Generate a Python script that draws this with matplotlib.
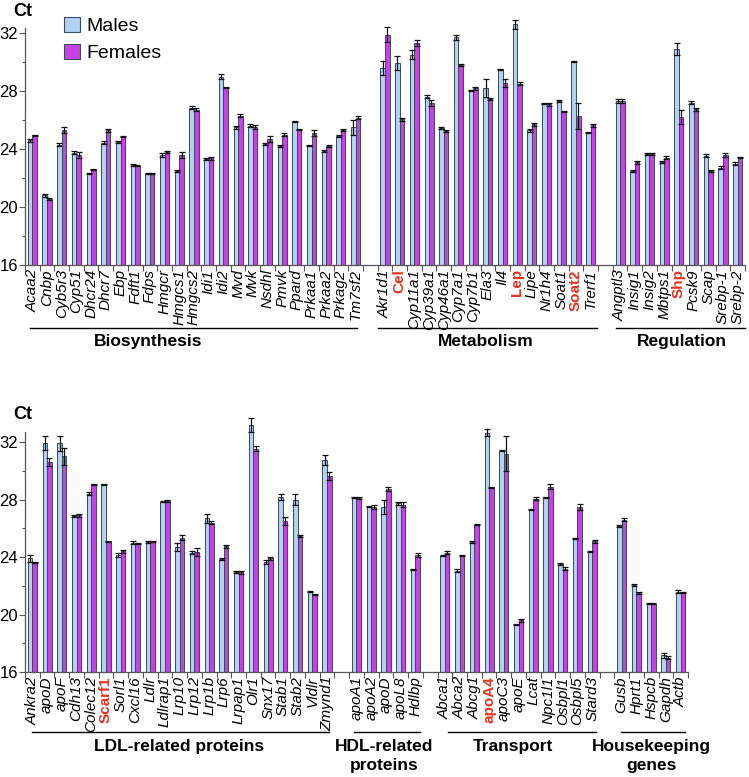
import matplotlib
matplotlib.use("Agg")
import matplotlib.pyplot as plt
import matplotlib.transforms as mtransforms
from matplotlib.patches import Patch
from matplotlib.ticker import MultipleLocator, FixedLocator
import numpy as np

plt.rcParams['font.family'] = ['Liberation Sans', 'DejaVu Sans']

# ---------------- data (Ct values) ----------------
bio_genes = ["Acaa2", "Cnbp", "Cyb5r3", "Cyp51", "Dhcr24", "Dhcr7", "Ebp", "Fdft1", "Fdps",
             "Hmgcr", "Hmgcs1", "Hmgcs2", "Idi1", "Idi2", "Mvd", "Mvk", "Nsdhl", "Pmvk",
             "Ppard", "Prkaa1", "Prkaa2", "Prkag2", "Tm7sf2"]
bio_m = [24.6, 20.8, 24.3, 23.75, 22.3, 24.45, 24.5, 22.9, 22.3, 23.6, 22.5, 26.85, 23.3, 29.0,
         25.5, 25.6, 24.35, 24.2, 25.9, 24.25, 23.85, 24.9, 25.5]
bio_f = [24.95, 20.55, 25.3, 23.6, 22.6, 25.3, 24.85, 22.85, 22.3, 23.8, 23.6, 26.7, 23.35, 28.25,
         26.3, 25.5, 24.7, 25.0, 25.35, 25.1, 24.2, 25.3, 26.15]
bio_me = [0.1, 0.1, 0.1, 0.1, 0.05, 0.1, 0.05, 0.1, 0.05, 0.15, 0.05, 0.1, 0.05, 0.2, 0.1, 0.1,
          0.1, 0.05, 0.05, 0.05, 0.05, 0.05, 0.5]
bio_fe = [0.05, 0.05, 0.2, 0.2, 0.05, 0.1, 0.05, 0.05, 0.05, 0.05, 0.2, 0.1, 0.1, 0.05, 0.1, 0.15,
          0.2, 0.1, 0.05, 0.2, 0.05, 0.05, 0.1]

met_genes = ["Akr1d1", "Cel", "Cyp11a1", "Cyp39a1", "Cyp46a1", "Cyp7a1", "Cyp7b1", "Ela3", "Il4",
             "Lep", "Lipe", "Nr1h4", "Soat1", "Soat2", "Trerf1"]
met_m = [29.6, 29.95, 30.5, 27.6, 25.45, 31.7, 28.05, 28.2, 29.5, 32.6, 25.3, 27.15, 27.3, 30.05, 25.15]
met_f = [31.9, 26.05, 31.3, 27.2, 25.25, 29.8, 28.2, 27.45, 28.55, 28.5, 25.7, 27.1, 26.6, 26.3, 25.65]
met_me = [0.5, 0.5, 0.3, 0.1, 0.05, 0.15, 0.05, 0.6, 0.05, 0.3, 0.1, 0.05, 0.05, 0.05, 0.05]
met_fe = [0.5, 0.1, 0.2, 0.2, 0.05, 0.05, 0.1, 0.1, 0.3, 0.1, 0.1, 0.1, 0.05, 0.9, 0.1]

reg_genes = ["Angptl3", "Insig1", "Insig2", "Mbtps1", "Shp", "Pcsk9", "Scap", "Srebp-1", "Srebp-2"]
reg_m = [27.3, 22.5, 23.65, 23.1, 30.9, 27.2, 23.55, 22.7, 23.0]
reg_f = [27.3, 23.1, 23.65, 23.4, 26.2, 26.75, 22.5, 23.6, 23.4]
reg_me = [0.15, 0.05, 0.05, 0.05, 0.4, 0.1, 0.1, 0.1, 0.1]
reg_fe = [0.15, 0.1, 0.05, 0.1, 0.5, 0.1, 0.05, 0.15, 0.05]

ldl_genes = ["Ankra2", "apoD", "apoF", "Cdh13", "Colec12", "Scarf1", "Sorl1", "Cxcl16", "Ldlr",
             "Ldlrap1", "Lrp10", "Lrp12", "Lrp1b", "Lrp6", "Lrpap1", "Olr1", "Snx17", "Stab1",
             "Stab2", "Vldlr", "Zmynd1"]
ldl_m = [23.9, 31.95, 31.9, 26.85, 28.4, 29.05, 24.15, 25.0, 25.05, 27.85, 24.7, 24.3, 26.7, 23.85,
         22.95, 33.2, 23.65, 28.2, 28.0, 21.6, 30.75]
ldl_f = [23.6, 30.6, 31.0, 26.9, 29.05, 25.1, 24.4, 24.95, 25.1, 27.9, 25.35, 24.35, 26.4, 24.75,
         22.95, 31.55, 23.9, 26.5, 25.45, 21.4, 29.65]
ldl_me = [0.25, 0.5, 0.5, 0.05, 0.1, 0.05, 0.15, 0.1, 0.05, 0.05, 0.25, 0.1, 0.3, 0.05, 0.05, 0.5,
          0.15, 0.2, 0.4, 0.05, 0.35]
ldl_fe = [0.05, 0.3, 0.6, 0.1, 0.05, 0.05, 0.1, 0.05, 0.05, 0.1, 0.15, 0.3, 0.1, 0.1, 0.1, 0.2,
          0.1, 0.3, 0.05, 0.05, 0.3]

hdl_genes = ["apoA1", "apoA2", "apoD", "apoL8", "Hdlbp"]
hdl_m = [28.15, 27.5, 27.5, 27.75, 23.15]
hdl_f = [28.1, 27.5, 28.75, 27.65, 24.15]
hdl_me = [0.05, 0.05, 0.5, 0.1, 0.05]
hdl_fe = [0.05, 0.15, 0.15, 0.2, 0.15]

tr_genes = ["Abca1", "Abca2", "Abcg1", "apoA4", "apoC3", "apoE", "Lcat", "Npc1l1", "Osbpl1",
            "Osbpl5", "Stard3"]
tr_m = [24.1, 23.05, 25.05, 32.65, 31.4, 19.3, 27.3, 28.15, 23.5, 25.3, 24.4]
tr_f = [24.3, 24.1, 26.25, 28.85, 31.2, 19.6, 28.05, 28.9, 23.2, 27.5, 25.1]
tr_me = [0.05, 0.1, 0.05, 0.25, 0.05, 0.05, 0.05, 0.05, 0.05, 0.05, 0.05]
tr_fe = [0.1, 0.05, 0.05, 0.05, 1.2, 0.1, 0.1, 0.2, 0.1, 0.2, 0.1]

hk_genes = ["Gusb", "Hprt1", "Hspcb", "Gapdh", "Actb"]
hk_m = [26.15, 22.05, 20.75, 17.15, 21.6]
hk_f = [26.6, 21.5, 20.75, 17.0, 21.55]
hk_me = [0.05, 0.05, 0.05, 0.15, 0.1]
hk_fe = [0.1, 0.05, 0.05, 0.1, 0.05]

highlight = {"Cel", "Lep", "Soat2", "Shp", "Scarf1", "apoA4"}

# (name, genes, males, females, male err, female err, label centre, line start/end offsets)
top_groups = [("Biosynthesis", bio_genes, bio_m, bio_f, bio_me, bio_fe, 7.9, (-0.15, 0.1)),
              ("Metabolism", met_genes, met_m, met_f, met_me, met_fe, 30.85, (-0.45, 0.4)),
              ("Regulation", reg_genes, reg_m, reg_f, reg_me, reg_fe, 44.2, (-0.3, 0.5))]
bot_groups = [("LDL-related proteins", ldl_genes, ldl_m, ldl_f, ldl_me, ldl_fe, 9.95, (0.0, 0.1)),
              ("HDL-related\nproteins", hdl_genes, hdl_m, hdl_f, hdl_me, hdl_fe, 23.85, (-0.2, 0.3)),
              ("Transport", tr_genes, tr_m, tr_f, tr_me, tr_fe, 32.6, (0.2, 0.25)),
              ("Housekeeping\ngenes", hk_genes, hk_m, hk_f, hk_me, hk_fe, 42.05, (-0.05, 0.3))]

MALE = "#b3d1f0"
FEMALE = "#cc3ee8"
EDGE = "#3d4a5c"
RED = "#e8321e"

fig = plt.figure(figsize=(7.49, 7.77), dpi=100)


def draw_panel(ax, groups, ytop, line_y, label_y):
    pos = 0
    centers, labels = [], []
    spans = []
    for name, genes, m, f, me, fe, lx, (o0, o1) in groups:
        x = np.arange(len(genes)) + pos
        ax.bar(x - 0.155, np.array(m) - 16, bottom=16, width=0.31, color=MALE,
               edgecolor=EDGE, linewidth=0.7, zorder=2, clip_on=False)
        ax.bar(x + 0.155, np.array(f) - 16, bottom=16, width=0.31, color=FEMALE,
               edgecolor=EDGE, linewidth=0.7, zorder=2, clip_on=False)
        for xx, vv, ee in ((x - 0.155, m, me), (x + 0.155, f, fe)):
            _, caps, bars = ax.errorbar(xx, vv, yerr=ee, fmt='none', ecolor='#111111',
                                        elinewidth=0.9, capsize=2, capthick=0.9, zorder=3)
            for a in list(caps) + list(bars):
                a.set_clip_on(False)
        centers.extend(x)
        labels.extend(genes)
        spans.append((name, x[0] + o0, x[-1] + o1, lx))
        pos += len(genes) + 1
    n = pos - 1
    ax.set_xlim(-0.5, n - 0.5)
    ax.set_ylim(16, ytop)
    ax.yaxis.set_major_locator(MultipleLocator(4))
    ax.yaxis.set_minor_locator(MultipleLocator(2))
    ax.xaxis.set_major_locator(FixedLocator(np.arange(n + 1) - 0.5))
    ax.xaxis.set_minor_locator(FixedLocator(centers))
    ax.set_xticklabels([])
    ax.set_xticklabels(labels, minor=True, rotation=90, fontsize=11, style='italic')
    for t in ax.get_xticklabels(minor=True):
        if t.get_text() in highlight:
            t.set_color(RED)
            t.set_fontweight('bold')
            t.set_style('normal')
    ax.tick_params(axis='x', which='major', length=4, width=0.8, color='#555555', direction='out')
    ax.tick_params(axis='x', which='minor', length=0, pad=3)
    ax.tick_params(axis='y', which='major', length=4, width=0.8, color='#555555', labelsize=12, pad=1)
    ax.tick_params(axis='y', which='minor', length=2, width=0.8, color='#555555')
    for s in ['top', 'right']:
        ax.spines[s].set_visible(False)
    for s in ['left', 'bottom']:
        ax.spines[s].set_color('#555555')
        ax.spines[s].set_linewidth(0.9)
    tr = mtransforms.blended_transform_factory(ax.transData, fig.transFigure)
    for name, x0, x1, lx in spans:
        ax.plot([x0, x1], [line_y, line_y], color='black', lw=1.0,
                transform=tr, clip_on=False)
        ax.text(lx, label_y, name, transform=tr, ha='center', va='top', fontsize=12.5,
                fontweight='bold', linespacing=1.3)


ax1 = fig.add_axes([25 / 749, 1 - 265 / 777, 720 / 749, 237 / 777])
draw_panel(ax1, top_groups, 32.35, 1 - 328 / 777, 1 - 334 / 777)

ax2 = fig.add_axes([25 / 749, 1 - 672 / 777, 663 / 749, 240 / 777])
draw_panel(ax2, bot_groups, 32.7, 1 - 732 / 777, 1 - 739 / 777)

fig.text(13 / 749, 1 - 11 / 777, "Ct", fontsize=13, fontweight='bold', ha='left', va='center')
fig.text(13 / 749, 1 - 414 / 777, "Ct", fontsize=13, fontweight='bold', ha='left', va='center')

handles = [Patch(facecolor=MALE, edgecolor=EDGE, linewidth=0.8, label="Males"),
           Patch(facecolor=FEMALE, edgecolor=EDGE, linewidth=0.8, label="Females")]
fig.legend(handles=handles, loc='upper left', bbox_to_anchor=(64 / 749, 1 - 17 / 777),
           frameon=False, fontsize=14, handlelength=0.8, handleheight=0.8,
           handletextpad=0.35, labelspacing=0.45, borderaxespad=0, borderpad=0)

fig.savefig("out.png", dpi=100)
